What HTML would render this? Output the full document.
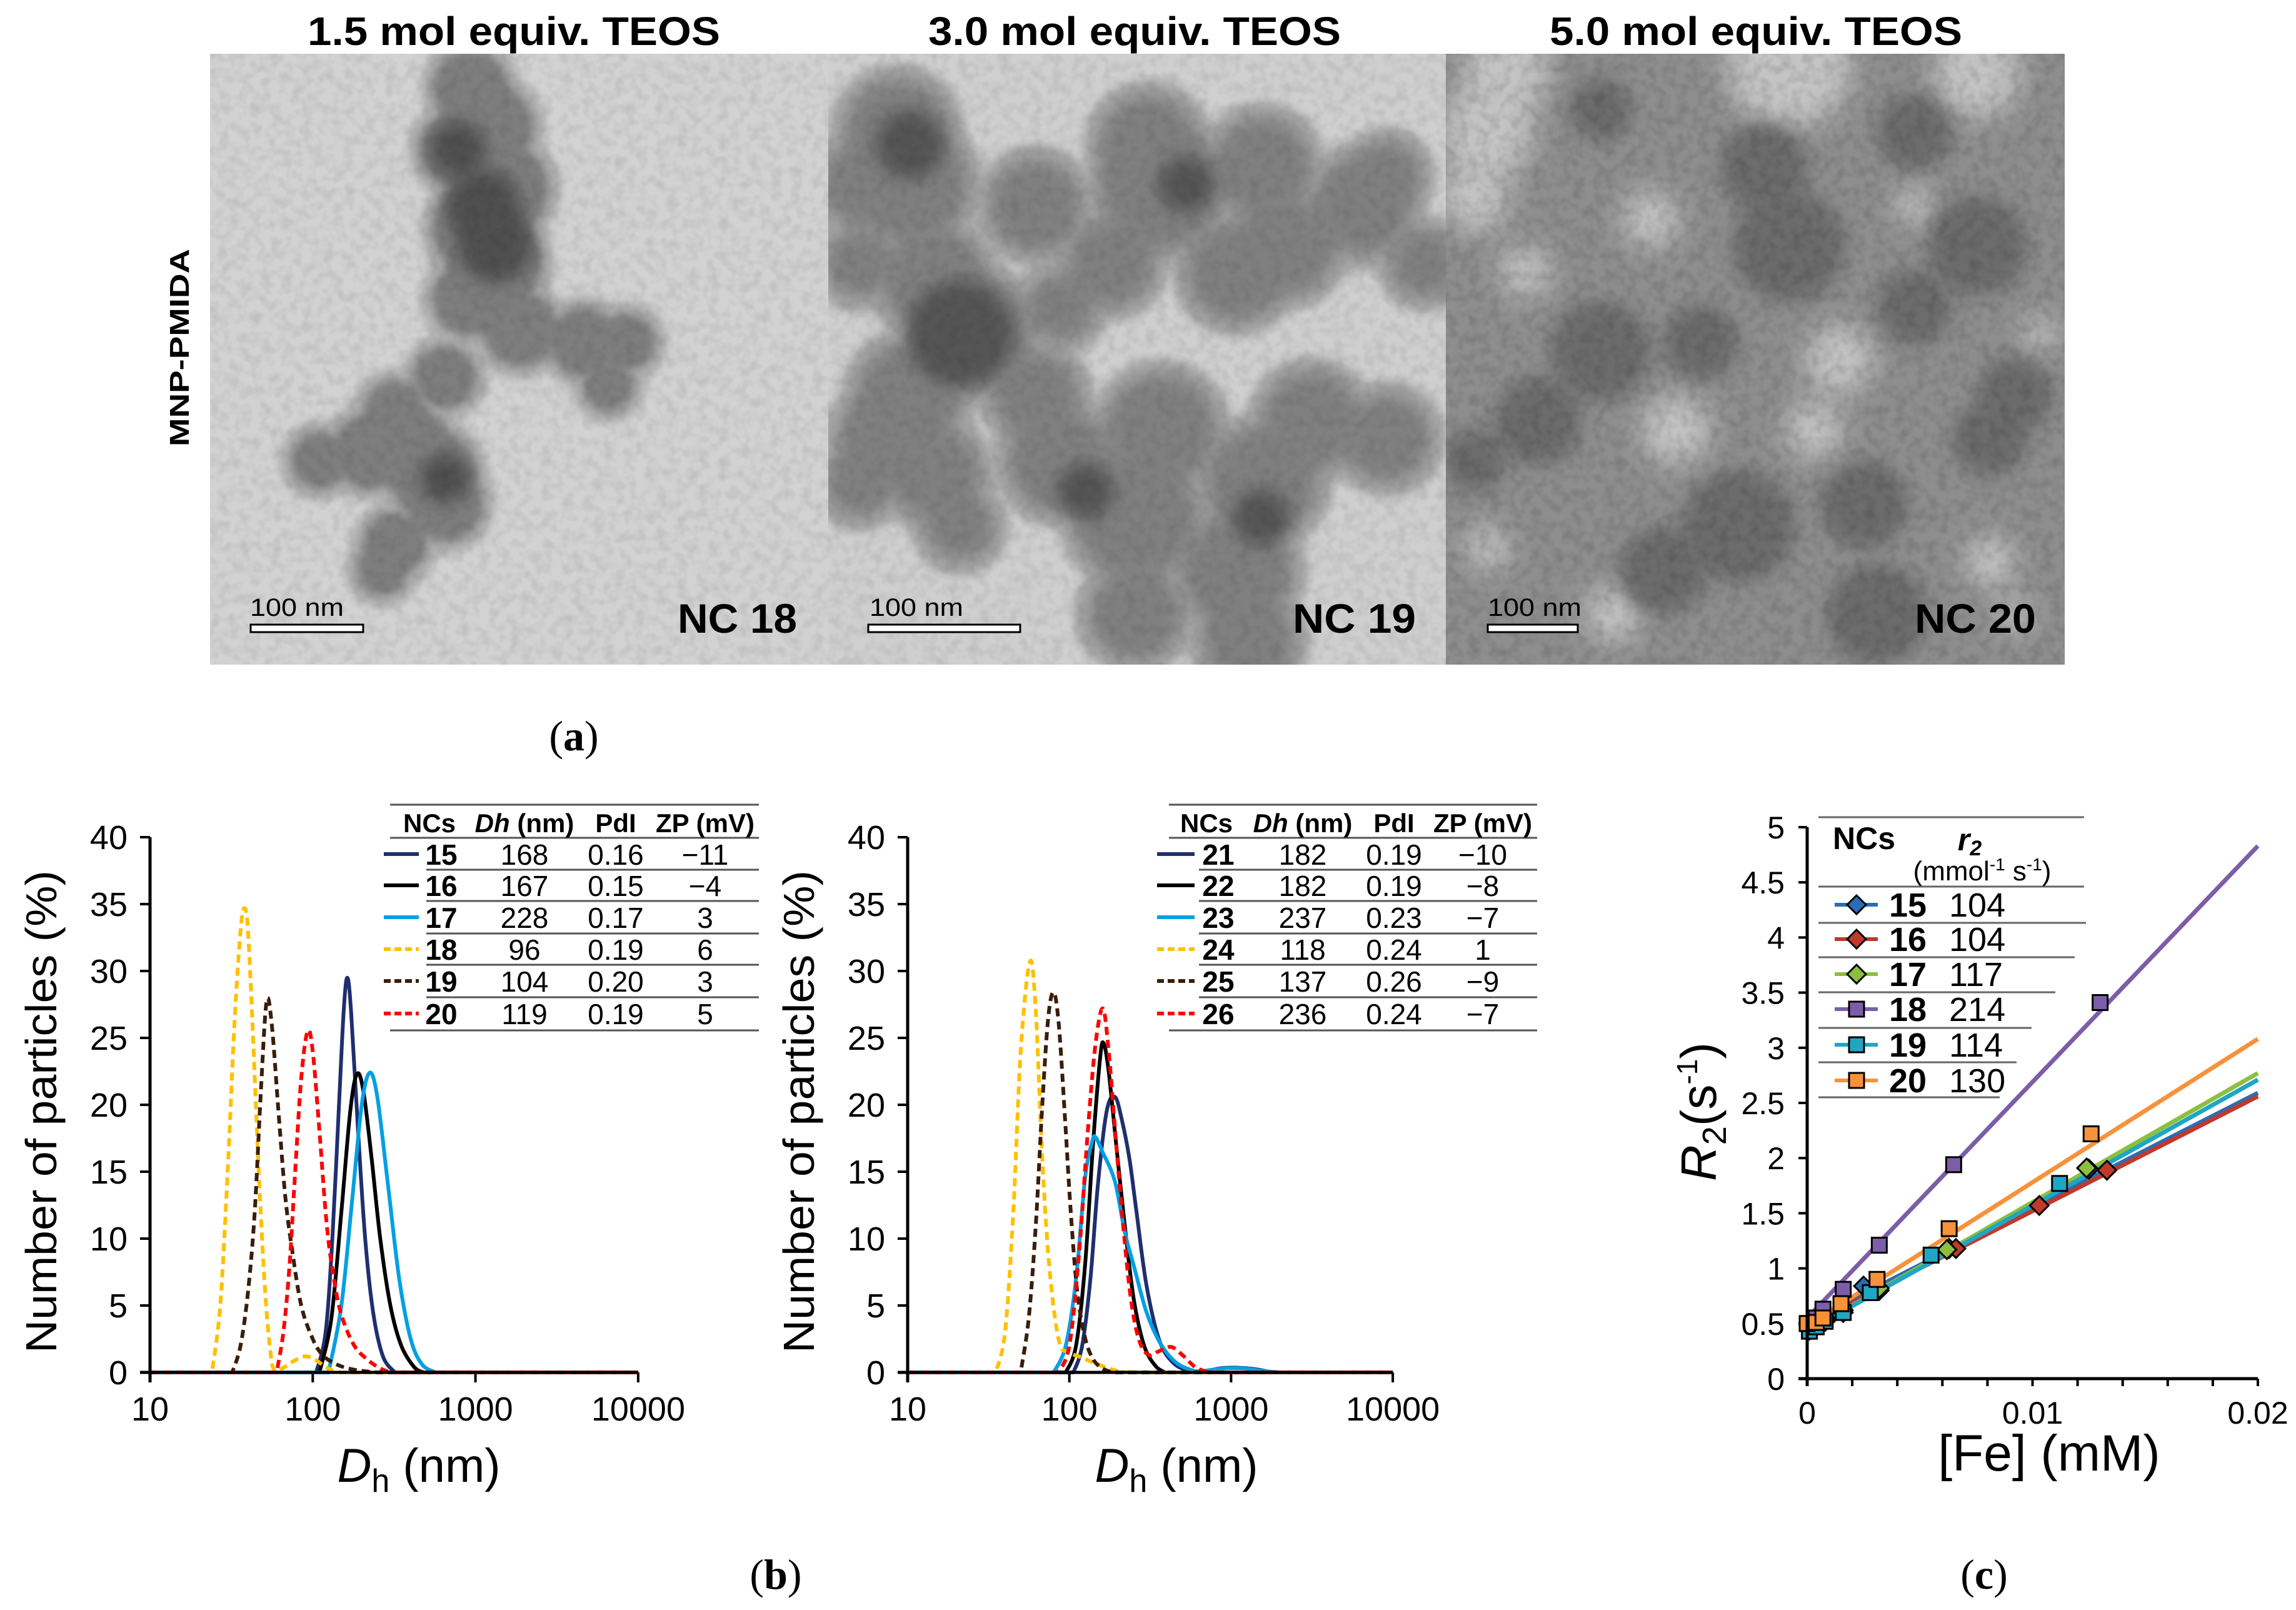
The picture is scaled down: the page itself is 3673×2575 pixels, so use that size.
<!DOCTYPE html>
<html><head><meta charset="utf-8"><style>
html,body{margin:0;padding:0;background:#fff}
svg{display:block}
text{font-family:"Liberation Sans",sans-serif}
</style></head><body>
<svg id="root" width="3673" height="2575" viewBox="0 0 3673 2575" xmlns="http://www.w3.org/2000/svg">
<defs>
<filter id="blur1" x="-50%" y="-50%" width="200%" height="200%"><feGaussianBlur stdDeviation="14"/></filter>
<filter id="blur2" x="-50%" y="-50%" width="200%" height="200%"><feGaussianBlur stdDeviation="7"/></filter>
<filter id="blur3" x="-50%" y="-50%" width="200%" height="200%"><feGaussianBlur stdDeviation="22"/></filter>
<filter id="grain" x="0" y="0" width="100%" height="100%"><feTurbulence type="fractalNoise" baseFrequency="0.06" numOctaves="2" seed="3"/><feColorMatrix type="matrix" values="0 0 0 0 0  0 0 0 0 0  0 0 0 0 0  0 0 0 -2.2 1.35"/></filter>
<clipPath id="cp1"><rect x="336" y="86" width="989" height="977"/></clipPath>
<clipPath id="cp2"><rect x="1325" y="86" width="988" height="977"/></clipPath>
<clipPath id="cp3"><rect x="2313" y="86" width="990" height="977"/></clipPath>
</defs>
<rect x="0" y="0" width="3673" height="2575" fill="#fff"/>

<g clip-path="url(#cp1)"><rect x="336" y="86" width="989" height="977" fill="#d2d2d2"/><g id="p1"></g><rect x="336" y="86" width="989" height="977" filter="url(#grain)" opacity="0.08"/></g>
<g clip-path="url(#cp2)"><rect x="1325" y="86" width="988" height="977" fill="#cfcfcf"/><g id="p2"></g><rect x="1325" y="86" width="988" height="977" filter="url(#grain)" opacity="0.08"/></g>
<g clip-path="url(#cp3)"><rect x="2313" y="86" width="990" height="977" fill="#8e8e8e"/><g id="p3"></g><rect x="2313" y="86" width="990" height="977" filter="url(#grain)" opacity="0.12"/></g>

<text x="822" y="72" text-anchor="middle" font-size="64" font-weight="bold" textLength="660" lengthAdjust="spacingAndGlyphs">1.5 mol equiv. TEOS</text>
<text x="1815" y="72" text-anchor="middle" font-size="64" font-weight="bold" textLength="660" lengthAdjust="spacingAndGlyphs">3.0 mol equiv. TEOS</text>
<text x="2809" y="72" text-anchor="middle" font-size="64" font-weight="bold" textLength="660" lengthAdjust="spacingAndGlyphs">5.0 mol equiv. TEOS</text>
<text transform="translate(302,556) rotate(-90)" text-anchor="middle" font-size="44" font-weight="bold" textLength="316" lengthAdjust="spacingAndGlyphs">MNP-PMIDA</text>

<g><text x="400" y="985" font-size="40" textLength="150" lengthAdjust="spacingAndGlyphs">100 nm</text><rect x="401" y="999" width="180" height="12" fill="#fff" stroke="#000" stroke-width="3"/></g>
<g><text x="1391" y="985" font-size="40" textLength="150" lengthAdjust="spacingAndGlyphs">100 nm</text><rect x="1389" y="999" width="243" height="12" fill="#fff" stroke="#000" stroke-width="3"/></g>
<g><text x="2380" y="985" font-size="40" textLength="150" lengthAdjust="spacingAndGlyphs">100 nm</text><rect x="2380" y="999" width="144" height="12" fill="#fff" stroke="#000" stroke-width="3"/></g>
<text x="1084" y="1012" font-size="66" font-weight="bold" textLength="191" lengthAdjust="spacingAndGlyphs">NC 18</text>
<text x="2068" y="1012" font-size="66" font-weight="bold" textLength="197" lengthAdjust="spacingAndGlyphs">NC 19</text>
<text x="3063" y="1012" font-size="66" font-weight="bold" textLength="194" lengthAdjust="spacingAndGlyphs">NC 20</text>

<text x="918" y="1200" text-anchor="middle" font-size="68" style="font-family:'Liberation Serif',serif">(<tspan font-weight="bold">a</tspan>)</text>
<text x="1241" y="2541" text-anchor="middle" font-size="68" style="font-family:'Liberation Serif',serif">(<tspan font-weight="bold">b</tspan>)</text>
<text x="3174" y="2541" text-anchor="middle" font-size="68" style="font-family:'Liberation Serif',serif">(<tspan font-weight="bold">c</tspan>)</text>

<g id="b1"></g>
<g id="b2"></g>
<g id="c"></g>
</svg>
<script>
// ---------- DLS data (left) ----------
const left_ids = ["15","16","17","18","19","20"];
const left_colors = ["#1f2f6e","#000000","#00a0e3","#ffc000","#3a1d0a","#ff0000"];
const left_dashed = [false,false,false,true,true,true];
const left_dh = ["168","167","228","96","104","119"];
const left_pdi = ["0.16","0.15","0.17","0.19","0.20","0.19"];
const left_zp = ["\u221211","\u22124","3","6","3","5"];
const c15x = [105,120,132,145,155,163,172,190,210,235,270,320];
const c15y = [0,3,10,20,27,29.5,27,18,10,4.5,1.2,0];
const c16x = [110,130,150,170,187,205,230,260,300,350,420,480];
const c16y = [0,4,12,19.5,22.3,21,16,10,5,2,0.4,0];
const c17x = [125,150,175,200,224,250,290,340,400,470,570];
const c17y = [0,5,13,20,22.4,20.5,14,7,2.5,0.6,0];
const c18x = [24,27,30,33,36,38,40,43,47,51,55,58,65,75,90,105,120,140,160];
const c18y = [0,5,15,26,33,34.7,33,25,14,6,1.5,0.2,0.3,0.8,1.2,0.9,0.4,0.05,0];
const c19x = [32,36,40,44,48,52,56,62,68,75,85,100,115,140,180,250];
const c19y = [0,2,6,12,21,27.7,26,19,13,9,5,2.5,1.3,0.6,0.2,0];
const c20x = [60,66,72,78,85,93,100,110,122,135,150,180,220,260,300];
const c20y = [0,3,8,15,22,25.5,24,18,11,7,4.3,2,0.9,0.3,0];
// ---------- DLS data (right) ----------
const right_ids = ["21","22","23","24","25","26"];
const right_dh = ["182","182","237","118","137","236"];
const right_pdi = ["0.19","0.19","0.23","0.24","0.26","0.24"];
const right_zp = ["\u221210","\u22128","\u22127","1","\u22129","\u22127"];
const c21x = [106,120,135,150,170,191,210,235,260,300,360,440,560,700,850,1100,1400,1800];
const c21y = [0,2,7,14,19.5,20.6,19,16,12,6.5,2.4,0.7,0.1,0.1,0.3,0.35,0.25,0];
const c22x = [95,110,125,140,155,163,175,195,220,250,290,340,390];
const c22y = [0,2,8,17,23.5,24.6,22.5,17,11,5.5,2,0.5,0];
const c23x = [80,95,110,125,138,145,160,191,220,250,300,364,450,560,650,900,1200,1600,2000];
const c23y = [0,2,7,14.5,17.2,17.6,16.5,14.3,10.5,8,4.5,2.2,0.8,0.2,0.1,0.3,0.3,0.1,0];
const c24x = [35,40,45,50,57,62,68,75,86,100,120,150,200,250];
const c24y = [0,3,12,24,30.7,27,16,8,2.4,1.5,1.1,0.6,0.1,0];
const c25x = [50,56,62,68,74,80,86,94,102,112,125,140,160,185];
const c25y = [0,4,11,20,26.5,28.4,26,19,12,6,2.6,1,0.3,0];
const c26x = [85,100,115,130,145,161,175,195,215,240,270,310,360,427,500,600,725];
const c26y = [0,2,9,18,24.5,27.2,24,17,11,5.5,2.4,1.3,1.6,1.9,1.3,0.4,0];
const yTicksB = [0,5,10,15,20,25,30,35,40];
const xTicksB = [10,100,1000,10000];
// ---------- Relaxivity data ----------
const c_ids = ["15","16","17","18","19","20"];
const c_r2 = [104,104,117,214,114,130];
const c_intercept = [0.51,0.48,0.43,0.55,0.43,0.48];
const c_colors = ["#2a6db5","#c0392b","#8cbf3f","#7b5ea7","#1fa6c4","#f7923a"];
const c_marker = ["diamond","diamond","diamond","square","square","square"];
const fe15 = [0.0001,0.0004,0.0008,0.0016,0.0025,0.0063,0.0125];
const r15 = [0.45,0.5,0.55,0.62,0.84,1.18,1.90];
const fe16 = [0.0001,0.0004,0.0008,0.0016,0.0032,0.0066,0.0103,0.0133];
const r16 = [0.45,0.48,0.53,0.62,0.8,1.18,1.57,1.89];
const fe17 = [0.0001,0.0004,0.0008,0.0016,0.0032,0.0062,0.0124];
const r17 = [0.44,0.48,0.52,0.6,0.82,1.17,1.91];
const fe18 = [0.0001,0.0004,0.0007,0.0016,0.0032,0.0065,0.013];
const r18 = [0.5,0.55,0.63,0.81,1.21,1.94,3.41];
const fe19 = [0.0001,0.0004,0.0008,0.0016,0.0028,0.0055,0.0112];
const r19 = [0.43,0.47,0.52,0.6,0.78,1.12,1.77];
const fe20 = [0.0000,0.0004,0.0007,0.0015,0.0031,0.0063,0.0126];
const r20 = [0.5,0.51,0.55,0.68,0.9,1.36,2.22];
const yTicksC = [0,0.5,1,1.5,2,2.5,3,3.5,4,4.5,5];
const xLabelsC = [0,0.01,0.02];

const NS = "http://www.w3.org/2000/svg";
function mk(tag, attrs, parent){const e=document.createElementNS(NS,tag);for(const k in attrs)e.setAttribute(k,attrs[k]);parent.appendChild(e);return e;}

// ---------- TEM panels ----------
function blobs(gid, list, fill, filt){
  const g=document.getElementById(gid);
  list.forEach(b=>{
    const c=mk("circle",{cx:250+2.009*b[0],cy:0.7015*b[1],r:b[2],fill:fill,filter:filt},g);
    
    
  });
}
const P1=[[250,200,60],[265,290,70],[240,340,60],[275,430,75],[260,520,80],[270,600,75],[250,680,60],[290,750,60],[340,780,55],[375,780,45],[360,880,40],[230,860,50],[190,940,50],[170,1030,60],[220,1080,70],[230,1150,60],[190,1240,50],[180,1300,40],[130,1050,45],[210,1000,45]];
blobs("p1",P1.map(b=>[b[0],b[1],b[2]+20]),"#acacac","url(#blur2)");
blobs("p1",P1,"#7e7e7e","url(#blur2)");
blobs("p1",[[260,470,60],[270,560,60],[240,340,45],[230,1090,40]],"#505050","url(#blur1)");
const P2=[[590,300,85],[600,420,95],[560,420,65],[700,470,75],[790,330,80],[800,430,100],[880,380,80],[960,470,80],[980,400,55],[620,640,85],[650,760,95],[600,900,85],[580,1000,75],[700,900,70],[720,1050,85],[800,980,90],[780,1180,100],[860,1300,90],[880,1100,90],[920,960,80],[980,1000,70],[760,600,70],[860,620,80],[720,700,55],[900,560,80],[640,1200,55],[870,1460,75],[780,1400,75],[560,1100,55],[620,1080,75],[560,600,55],[1010,600,55]];
blobs("p2",P2.map(b=>[b[0],b[1],b[2]+25]),"#a8a8a8","url(#blur2)");
blobs("p2",P2,"#808080","url(#blur1)");
blobs("p2",[[640,760,85],[600,330,55],[740,1120,45],[820,420,45],[880,1180,45]],"#555","url(#blur1)");
blobs("p3",[[1060,300,75],[1075,160,70],[1300,150,100],[1450,170,70],[1190,500,45],[1340,820,55],[1320,980,45],[1210,980,55],[1400,470,30],[1460,1280,40],[1480,1400,28],[1160,1400,45],[1060,1250,35],[1090,620,40],[1500,760,28],[1050,450,55]],"#c4c4c4","url(#blur3)");
blobs("p3",[[1150,250,50],[1280,380,70],[1300,560,90],[1450,560,80],[1150,800,80],[1230,780,60],[1400,700,60],[1480,900,60],[1100,960,70],[1260,1200,90],[1360,1150,70],[1200,1300,70],[1370,1400,80],[1460,1000,60],[1050,1050,50],[1400,300,60]],"#6c6c6c","url(#blur1)");

// ---------- DLS charts ----------
function smoothPath(pts){
  let d="M"+pts[0][0].toFixed(1)+","+pts[0][1].toFixed(1);
  for(let i=0;i<pts.length-1;i++){
    const p0=pts[Math.max(0,i-1)],p1=pts[i],p2=pts[i+1],p3=pts[Math.min(pts.length-1,i+2)];
    const c1=[p1[0]+(p2[0]-p0[0])/6,p1[1]+(p2[1]-p0[1])/6];
    const c2=[p2[0]-(p3[0]-p1[0])/6,p2[1]-(p3[1]-p1[1])/6];
    d+=" C"+c1[0].toFixed(1)+","+c1[1].toFixed(1)+" "+c2[0].toFixed(1)+","+c2[1].toFixed(1)+" "+p2[0].toFixed(1)+","+p2[1].toFixed(1);
  }
  return d;
}
function dlsChart(gid, x0, xsList, ysList, colors, dashed, ids, dh, pdi, zp, T){
  const g=document.getElementById(gid);
  const dec=(gid==="b1")?260.3:258.7;
  const Y0=2195, PY=21.4;
  const sx=v=>x0+(Math.log10(v)-1)*dec;
  const sy=v=>Y0-v*PY;
  yTicksB.forEach(t=>{
    const tk=mk("line",{x1:x0-16,x2:x0,y1:sy(t),y2:sy(t),stroke:"#000","stroke-width":4},g);
    
    
    const lb=mk("text",{x:x0-36,y:sy(t)+19,"text-anchor":"end","font-size":54},g);
    lb.textContent=t;
    
    
  });
  xTicksB.forEach(t=>{
    const tk=mk("line",{x1:sx(t),x2:sx(t),y1:Y0,y2:Y0+16,stroke:"#000","stroke-width":4},g);
    
    
    const lb=mk("text",{x:sx(t),y:Y0+77,"text-anchor":"middle","font-size":54},g);
    lb.textContent=t;
    
    
  });
  xsList.forEach((xs,i)=>{
    const ys=ysList[i];
    const pts=xs.map((x,j)=>[sx(x),sy(ys[j])]);
    let d="M"+sx(10)+","+Y0+" L"+pts[0][0].toFixed(1)+","+Y0+" "+smoothPath(pts).slice(1).replace(/^[^C]*/,m=>" L"+m)+" L"+sx(10000)+","+Y0;
    const p=mk("path",{d:d,fill:"none",stroke:colors[i],"stroke-width":6,"stroke-dasharray":dashed[i]?"13,8":"none","stroke-linejoin":"round"},g);
    
    
  });
  const ax=mk("path",{d:"M"+x0+","+sy(40)+" L"+x0+","+(Y0+16)+" M"+(x0-16)+","+Y0+" L"+sx(10000)+","+Y0,stroke:"#000","stroke-width":5,fill:"none"},g);
  
  
  const yt=mk("text",{transform:"translate("+(x0-150)+",1778) rotate(-90)","text-anchor":"middle","font-size":70,textLength:772,lengthAdjust:"spacingAndGlyphs"},g);
  yt.textContent="Number of particles (%)";
  
  
  const xt=mk("text",{x:x0+430,y:2370,"text-anchor":"middle","font-size":76},g);
  xt.innerHTML='<tspan font-style="italic">D</tspan><tspan font-size="52" dy="16">h</tspan><tspan dy="-16"> (nm)</tspan>';
  
  
  const rowY=[1366,1416,1467,1518,1569,1621];
  const lines=[[T.l,1287],[T.l,1340],[T.i,1391],[T.i,1441],[T.i,1493],[T.i,1543],[T.i,1595],[T.l,1648]];
  lines.forEach(l=>{
    const ln=mk("line",{x1:l[0],x2:T.r,y1:l[1],y2:l[1],stroke:"#555","stroke-width":3},g);
    
    
  });
  const hdr=[[T.cN,"NCs"],[T.cD,null],[T.cP,"PdI"],[T.cZ,"ZP (mV)"]];
  hdr.forEach(h=>{
    const t=mk("text",{x:h[0],y:1331,"text-anchor":"middle","font-size":42,"font-weight":"bold"},g);
    if(h[1]) t.textContent=h[1]; else t.innerHTML='<tspan font-style="italic">Dh</tspan> (nm)';
    
    
  });
  ids.forEach((id,i)=>{
    const y=rowY[i];
    const s=mk("line",{x1:T.s0,x2:T.s1,y1:y,y2:y,stroke:colors[i],"stroke-width":6,"stroke-dasharray":dashed[i]?"11,6":"none"},g);
    
    
    const vals=[[T.cN+19,id,"bold"],[T.cD,dh[i],"normal"],[T.cP,pdi[i],"normal"],[T.cZ,zp[i],"normal"]];
    vals.forEach(v=>{
      const t=mk("text",{x:v[0],y:y+17,"text-anchor":"middle","font-size":46,"font-weight":v[2]},g);
      t.textContent=v[1];
      
      
    });
  });
}
dlsChart("b1",240,[c15x,c16x,c17x,c18x,c19x,c20x],[c15y,c16y,c17y,c18y,c19y,c20y],left_colors,left_dashed,left_ids,left_dh,left_pdi,left_zp,
  {l:624,i:682,r:1214,s0:614,s1:670,cN:687,cD:839,cP:985,cZ:1128});
dlsChart("b2",1452,[c21x,c22x,c23x,c24x,c25x,c26x],[c21y,c22y,c23y,c24y,c25y,c26y],left_colors,left_dashed,right_ids,right_dh,right_pdi,right_zp,
  {l:1870,i:1918,r:2459,s0:1851,s1:1911,cN:1930,cD:2084,cP:2230,cZ:2372});

// ---------- Relaxivity chart ----------
(function(){
  const g=document.getElementById("c");
  const X0=2891, X1=3612, Y0=2205, PY=176.4;
  const sx=v=>X0+v/0.02*(X1-X0);
  const sy=v=>Y0-v*PY;
  yTicksC.forEach(t=>{
    const tk=mk("line",{x1:X0-14,x2:X0,y1:sy(t),y2:sy(t),stroke:"#000","stroke-width":4},g);
    
    
    const lb=mk("text",{x:X0-36,y:sy(t)+18,"text-anchor":"end","font-size":50},g);
    lb.textContent=String(t);
    
    
  });
  for(let k=0;k<=10;k++){
    const tk=mk("line",{x1:sx(k*0.002),x2:sx(k*0.002),y1:Y0,y2:Y0+12,stroke:"#000","stroke-width":4},g);
    
    
  }
  xLabelsC.forEach(t=>{
    const lb=mk("text",{x:sx(t),y:Y0+72,"text-anchor":"middle","font-size":50},g);
    lb.textContent=String(t);
    
    
  });
  const fes=[fe15,fe16,fe17,fe18,fe19,fe20], rs=[r15,r16,r17,r18,r19,r20];
  function marker(type,cx,cy,color,name){
    let e;
    if(type==="square") e=mk("rect",{x:cx-12,y:cy-12,width:24,height:24,fill:color,stroke:"#000","stroke-width":3},g);
    else e=mk("path",{d:"M"+cx+","+(cy-15)+" L"+(cx+15)+","+cy+" L"+cx+","+(cy+15)+" L"+(cx-15)+","+cy+"Z",fill:color,stroke:"#000","stroke-width":3},g);
    
    
  }
  c_ids.forEach((id,i)=>{
    const l=mk("line",{x1:sx(0),y1:sy(c_intercept[i]),x2:sx(0.02),y2:sy(c_intercept[i]+c_r2[i]*0.02),stroke:c_colors[i],"stroke-width":7},g);
    
    
  });
  c_ids.forEach((id,i)=>{
    fes[i].forEach((f,j)=>marker(c_marker[i],sx(f),sy(rs[i][j]),c_colors[i],'point-'+id));
  });
  const ax=mk("path",{d:"M"+X0+","+sy(5)+" L"+X0+","+(Y0+12)+" M"+(X0-14)+","+Y0+" L"+X1+","+Y0,stroke:"#000","stroke-width":5,fill:"none"},g);
  
  
  const yt=mk("text",{transform:"translate(2745,1778) rotate(-90)","text-anchor":"middle","font-size":80},g);
  yt.innerHTML='<tspan font-style="italic">R</tspan><tspan font-size="54" dy="16">2</tspan><tspan dy="-16">(s</tspan><tspan font-size="46" dy="-30">-1</tspan><tspan dy="30">)</tspan>';
  
  
  const xt=mk("text",{x:3278,y:2352,"text-anchor":"middle","font-size":82},g);
  xt.textContent="[Fe] (mM)";
  
  
  const rules=[[1307,3334],[1418,3334],[1476,3337],[1531,3319],[1587,3288],[1644,3250],[1699,3226],[1755,3199]];
  rules.forEach(r=>{
    const ln=mk("line",{x1:2909,x2:r[1],y1:r[0],y2:r[0],stroke:"#666","stroke-width":3},g);
    
    
  });
  const h1=mk("text",{x:2932,y:1358,"font-size":50,"font-weight":"bold"},g);
  h1.textContent="NCs";
  
  
  const h2=mk("text",{x:3151,y:1360,"text-anchor":"middle","font-size":50,"font-weight":"bold","font-style":"italic"},g);
  h2.innerHTML='r<tspan font-size="34" dy="8">2</tspan>';
  
  
  const h3=mk("text",{x:3171,y:1408,"text-anchor":"middle","font-size":44},g);
  h3.innerHTML='(mmol<tspan font-size="28" dy="-16">-1</tspan><tspan dy="16"> s</tspan><tspan font-size="28" dy="-16">-1</tspan><tspan dy="16">)</tspan>';
  
  
  const rowY=[1447,1502,1558,1614,1671,1728];
  c_ids.forEach((id,i)=>{
    const y=rowY[i];
    const s=mk("line",{x1:2935,x2:3004,y1:y,y2:y,stroke:c_colors[i],"stroke-width":6},g);
    
    
    marker(c_marker[i],2970,y,c_colors[i],'legend-marker-'+id);
    const n=mk("text",{x:3022,y:y+19,"font-size":54,"font-weight":"bold"},g);
    n.textContent=id;
    
    
    const v=mk("text",{x:3118,y:y+19,"font-size":54},g);
    v.textContent=String(c_r2[i]);
    
    
  });
})();
</script>
</body></html>
